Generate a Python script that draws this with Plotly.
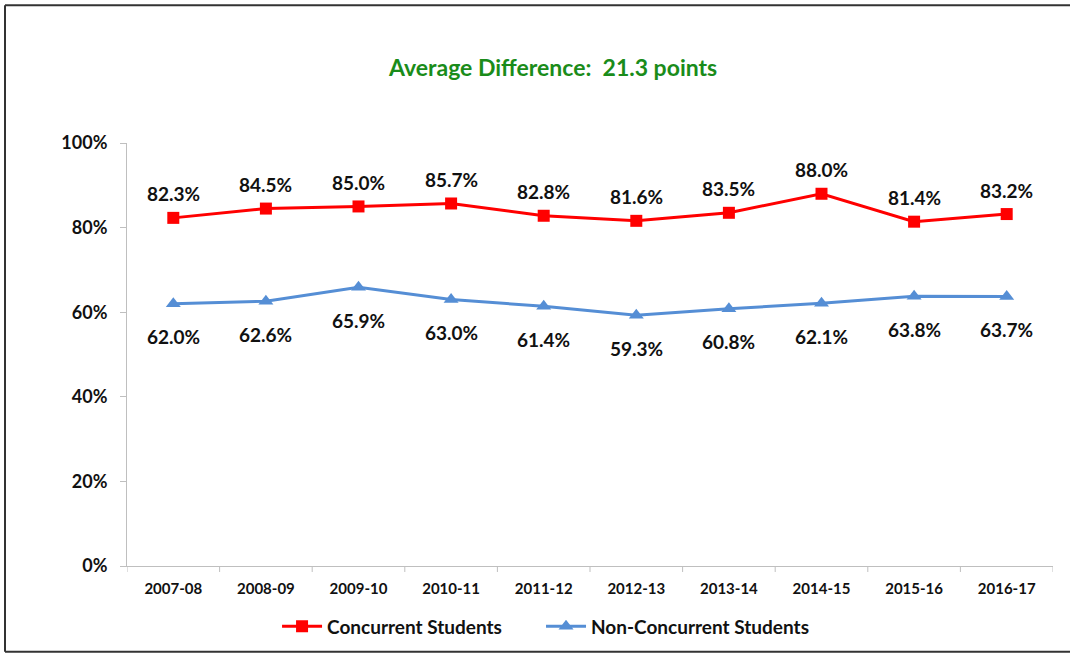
import plotly.graph_objects as go

years = ["2007-08", "2008-09", "2009-10", "2010-11", "2011-12",
         "2012-13", "2013-14", "2014-15", "2015-16", "2016-17"]
concurrent = [82.3, 84.5, 85.0, 85.7, 82.8, 81.6, 83.5, 88.0, 81.4, 83.2]
non_concurrent = [62.0, 62.6, 65.9, 63.0, 61.4, 59.3, 60.8, 62.1, 63.8, 63.7]
y_ticks = [0, 20, 40, 60, 80, 100]
y_tick_labels = ["0%", "20%", "40%", "60%", "80%", "100%"]
title_text = "Average Difference:  21.3 points"

FONT = "Lato, Calibri, 'Open Sans', sans-serif"
RED = "#FF0000"
BLUE = "#558ED5"

xi = list(range(len(years)))
pad = "\u00a0" * 7

fig = go.Figure()
fig.add_trace(go.Scatter(
    x=xi, y=concurrent, mode="lines+markers", name="<b>Concurrent Students</b>" + pad,
    line=dict(color=RED, width=3),
    marker=dict(symbol="square", size=12, color=RED),
))
fig.add_trace(go.Scatter(
    x=xi, y=non_concurrent, mode="lines+markers", name="<b>Non-Concurrent Students</b>",
    line=dict(color=BLUE, width=3),
    marker=dict(symbol="triangle-up", size=13, color=BLUE),
))

for i, v in enumerate(concurrent):
    fig.add_annotation(x=i, y=v, text=f"<b>{v:.1f}%</b>", showarrow=False,
                       yshift=24, font=dict(family=FONT, size=19, color="#111111"))
for i, v in enumerate(non_concurrent):
    fig.add_annotation(x=i, y=v, text=f"<b>{v:.1f}%</b>", showarrow=False,
                       yshift=-33, font=dict(family=FONT, size=19, color="#111111"))

fig.add_annotation(xref="paper", yref="paper", x=(552 - 127) / 926, y=(567 - 67) / 424,
                   xanchor="center", yanchor="middle",
                   text=f"<b>{title_text}</b>", showarrow=False,
                   font=dict(family=FONT, size=23, color="#1A8C1A"))

# frame lines (left, top, bottom)
border = dict(color="#333333", width=2)
x0 = (5 - 127) / 926
x1 = (1070 - 127) / 926
yt = (567 - 5) / 424
yb = (567 - 653) / 424
fig.add_shape(type="line", xref="paper", yref="paper", x0=x0, x1=x0, y0=yb, y1=yt, line=border)
fig.add_shape(type="line", xref="paper", yref="paper", x0=x0, x1=x1, y0=yt, y1=yt, line=border)
fig.add_shape(type="line", xref="paper", yref="paper", x0=x0, x1=x1, y0=yb, y1=yb, line=border)

fig.update_layout(
    width=1070, height=656,
    margin=dict(l=127, r=17, t=143, b=89),
    paper_bgcolor="white", plot_bgcolor="white",
    showlegend=True,
    legend=dict(orientation="h", x=0.452, xanchor="center", y=-0.14, yanchor="middle",
                font=dict(family=FONT, size=19, color="#111111"),
                itemwidth=40, tracegroupgap=0),
    xaxis=dict(
        range=[-0.5, len(years) - 0.5], tickmode="array", tickvals=xi,
        ticktext=[f"<b>{y}</b>" for y in years],
        showgrid=False, zeroline=False, showline=True, linecolor="#BFBFBF", linewidth=1,
        ticks="", ticklabelstandoff=9,
        tickfont=dict(family=FONT, size=15, color="#111111"),
    ),
    yaxis=dict(
        range=[0, 100], tickmode="array", tickvals=y_ticks,
        ticktext=[f"<b>{t}</b>" for t in y_tick_labels],
        showgrid=False, zeroline=False, showline=True, linecolor="#BFBFBF", linewidth=1,
        ticks="outside", ticklen=6, tickcolor="#BFBFBF", ticklabelstandoff=9,
        tickfont=dict(family=FONT, size=18, color="#111111"),
    ),
)

# category separator ticks on x axis
for i in range(len(years) + 1):
    fig.add_shape(type="line", xref="x", yref="paper", x0=i - 0.5, x1=i - 0.5,
                  y0=0, y1=-6 / 424, line=dict(color="#BFBFBF", width=1))

fig.write_html("out.html", config={"displayModeBar": False},
               post_script="document.body.style.margin='0';document.body.style.overflow='hidden';")
